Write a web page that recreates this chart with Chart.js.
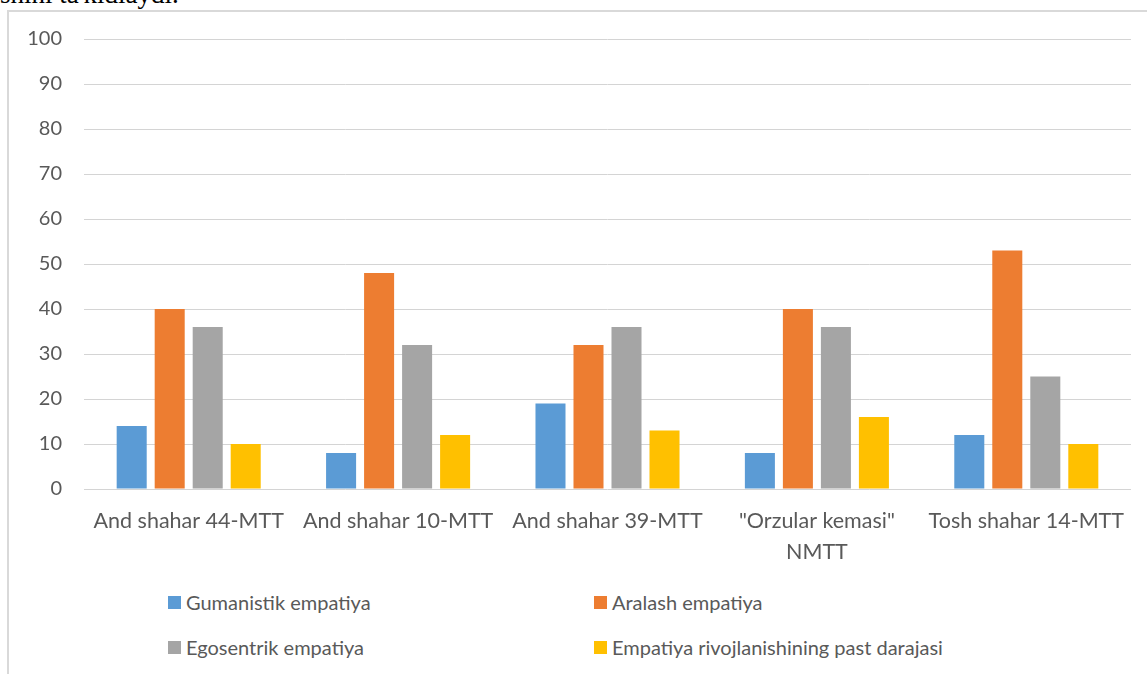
<!DOCTYPE html>
<html>
<head>
<meta charset="utf-8">
<script src="https://cdn.jsdelivr.net/npm/chart.js@4/dist/chart.umd.min.js"></script>
<style>
  body { margin: 0; background: #fff; width: 1147px; height: 674px; overflow: hidden; position: relative; }
  .doc-text { position: absolute; left: 0; top: -19px; font-family: "Liberation Serif", serif; font-size: 27px; line-height: 1; color: #000; white-space: nowrap; }
  .frame { position: absolute; left: 7px; top: 10px; width: 1160px; height: 700px; border: 2px solid #d9d9d9; box-sizing: border-box; }
  #chart { position: absolute; left: 0; top: 0; }
  .legend { position: absolute; left: 0; top: 0; font-family: Lato, sans-serif; font-size: 20px; color: #595959; }
  .legend div { position: absolute; white-space: nowrap; display: flex; align-items: center; }
  .legend span.box { width: 13px; height: 13px; margin-right: 5px; display: inline-block; }
</style>
</head>
<body>
<div class="doc-text">shini ta'kidlaydi.</div>
<div class="frame"></div>
<canvas id="chart" width="1147" height="580"></canvas>
<div class="legend" id="legend"></div>
<script>
// Chart data
const categories = [
    "And shahar 44-MTT",
    "And shahar 10-MTT",
    "And shahar 39-MTT",
    ['"Orzular kemasi"', "NMTT"],
    "Tosh shahar 14-MTT"
];
const seriesNames = [
    "Gumanistik empatiya",
    "Aralash empatiya",
    "Egosentrik empatiya",
    "Empatiya rivojlanishining past darajasi"
];
const gumanistik = [14, 8, 19, 8, 12];
const aralash = [40, 48, 32, 40, 53];
const egosentrik = [36, 32, 36, 36, 25];
const pastDaraja = [10, 12, 13, 16, 10];
const colors = ["#5b9bd5", "#ed7d31", "#a5a5a5", "#ffc000"];

const seriesValues = [gumanistik, aralash, egosentrik, pastDaraja];
const textColor = "#595959";
const font = { family: "Lato, sans-serif", size: 20 };

const datasets = seriesNames.map((name, i) => ({
    label: name,
    data: seriesValues[i],
    backgroundColor: colors[i],
    barPercentage: 0.79,
    categoryPercentage: 0.726
}));

const chart = new Chart(document.getElementById("chart"), {
    type: "bar",
    data: { labels: categories, datasets: datasets },
    options: {
        responsive: false,
        animation: false,
        layout: { padding: { top: 39, right: 16, left: 0, bottom: 0 } },
        plugins: {
            legend: { display: false },
            tooltip: { enabled: false }
        },
        scales: {
            x: {
                grid: { display: false },
                border: { display: false },
                ticks: { color: textColor, font: { family: font.family, size: 21.5, lineHeight: 1.45 }, padding: 8, maxRotation: 0, autoSkip: false },
                afterFit: (scale) => { scale.height = 91; }
            },
            y: {
                min: 0,
                max: 100,
                grid: { color: "#d4d4d4", lineWidth: 1, drawTicks: false },
                border: { display: false },
                ticks: { stepSize: 10, color: textColor, font: font, padding: 22 },
                afterFit: (scale) => { scale.width = 84; }
            }
        }
    }
});

// Legend in two columns
const legend = document.getElementById("legend");
const legendPos = [[168, 590], [594, 590], [168, 635], [594, 635]];
seriesNames.forEach((name, i) => {
    const item = document.createElement("div");
    item.style.left = legendPos[i][0] + "px";
    item.style.top = legendPos[i][1] + "px";
    item.innerHTML = `<span class="box" style="background:${colors[i]}"></span>${name}`;
    legend.appendChild(item);
});
</script>
</body>
</html>
